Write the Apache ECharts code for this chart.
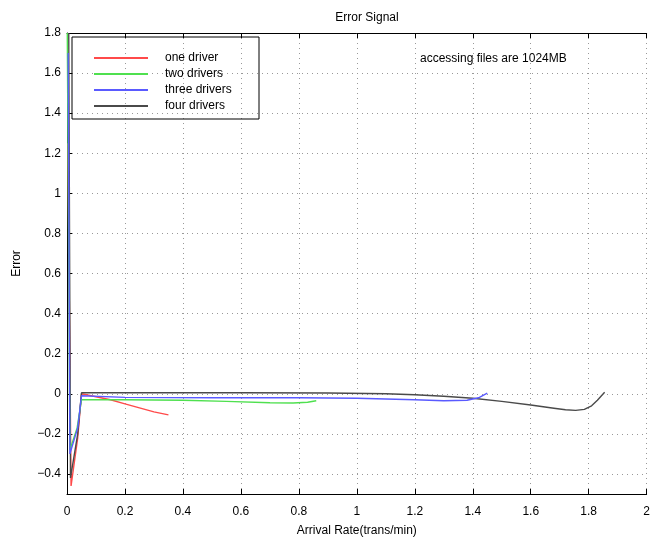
<!DOCTYPE html>
<html>
<head>
<meta charset="utf-8">
<script src="https://cdn.jsdelivr.net/npm/echarts@6/dist/echarts.min.js"></script>
<style>
html, body { margin: 0; padding: 0; background: #fff; }
#main { width: 653px; height: 542px; }
</style>
</head>
<body>
<div id="main"></div>
<script>
var chart = echarts.init(document.getElementById('main'));

// series data
var seriesNames = ['one driver', 'two drivers', 'three drivers', 'four drivers'];

var xOne = [0.003, 0.014, 0.037, 0.05, 0.1, 0.15, 0.2, 0.25, 0.3, 0.35];
var yOne = [1.25, -0.46, -0.22, 0.0, -0.015, -0.03, -0.05, -0.07, -0.09, -0.105];

var xTwo = [0.001, 0.01, 0.035, 0.05, 0.2, 0.4, 0.55, 0.7, 0.78, 0.83, 0.86];
var yTwo = [1.8, -0.28, -0.17, -0.03, -0.03, -0.032, -0.038, -0.045, -0.046, -0.042, -0.035];

var xThree = [0.004, 0.01, 0.037, 0.05, 0.2, 0.5, 0.8, 1.0, 1.2, 1.3, 1.38, 1.42, 1.45];
var yThree = [1.7, -0.3, -0.17, -0.01, -0.018, -0.02, -0.02, -0.022, -0.03, -0.035, -0.032, -0.02, 0.003];

var xFour = [0.006, 0.012, 0.037, 0.05, 0.3, 0.6, 0.9, 1.1, 1.2, 1.3, 1.4, 1.5, 1.6, 1.68, 1.72, 1.755, 1.785, 1.81, 1.83, 1.855];
var yFour = [1.8, -0.42, -0.2, 0.005, 0.005, 0.005, 0.004, 0.0, -0.005, -0.012, -0.022, -0.038, -0.056, -0.072, -0.08, -0.083, -0.078, -0.06, -0.032, 0.008];

var yTicks = [-0.4, -0.2, 0, 0.2, 0.4, 0.6, 0.8, 1, 1.2, 1.4, 1.6, 1.8];

var colors = ['#ff4a4a', '#4fe04f', '#5a5aff', '#4a4a4a'];

function pairs(xs, ys) {
    return xs.map(function (x, i) { return [x, ys[i]]; });
}
var allData = [pairs(xOne, yOne), pairs(xTwo, yTwo), pairs(xThree, yThree), pairs(xFour, yFour)];

var font = 'Liberation Sans';
var gridLine = { show: true, lineStyle: { type: [1, 4], color: '#999', width: 1 } };

var option = {
    animation: false,
    backgroundColor: '#fff',
    textStyle: { fontFamily: font },
    title: {
        text: 'Error Signal',
        left: 362,
        top: 7,
        textAlign: 'center',
        textStyle: { fontSize: 12, fontWeight: 'normal', color: '#000', fontFamily: font }
    },
    grid: { left: 67, top: 33, right: -2, bottom: 48 },
    legend: {
        orient: 'vertical',
        left: 89,
        top: 46,
        icon: 'rect',
        itemWidth: 54,
        itemHeight: 2,
        itemGap: 2,
        data: seriesNames,
        textStyle: { fontSize: 12, lineHeight: 14, color: '#000', fontFamily: font, padding: [0, 0, 0, 12] }
    },
    graphic: [
        {
            type: 'rect',
            shape: { x: 72, y: 37, width: 187, height: 82 },
            style: { fill: 'rgba(0,0,0,0)', stroke: '#000', lineWidth: 1 },
            z: 100
        },
        {
            type: 'text',
            left: 420,
            top: 53,
            style: { text: 'accessing files are 1024MB', fontSize: 12, fill: '#000', fontFamily: font }
        }
    ],
    xAxis: [
        {
            type: 'value',
            min: 0,
            max: 2,
            interval: 0.2,
            name: 'Arrival Rate(trans/min)',
            nameLocation: 'middle',
            nameGap: 31,
            nameTextStyle: { fontSize: 12, color: '#000', fontFamily: font },
            axisLine: { show: true, onZero: false, lineStyle: { color: '#000', width: 1 } },
            axisTick: { show: true, inside: true, length: 5, lineStyle: { color: '#000' } },
            axisLabel: { color: '#000', fontSize: 12, margin: 12, fontFamily: font,
                formatter: function (v) { return String(Math.round(v * 10) / 10); } },
            splitLine: gridLine
        },
        {
            type: 'value',
            position: 'top',
            min: 0,
            max: 2,
            interval: 0.2,
            axisLine: { show: true, onZero: false, lineStyle: { color: '#000', width: 1 } },
            axisTick: { show: true, inside: true, length: 5, lineStyle: { color: '#000' } },
            axisLabel: { show: false },
            splitLine: { show: false }
        }
    ],
    yAxis: {
        type: 'value',
        min: -0.5,
        max: 1.8,
        name: 'Error',
        nameLocation: 'middle',
        nameGap: 44,
        nameTextStyle: { fontSize: 12, color: '#000', fontFamily: font },
        axisLine: { show: true, onZero: false, lineStyle: { color: '#000', width: 1 } },
        axisTick: { show: true, inside: true, length: 5, customValues: yTicks, lineStyle: { color: '#000' } },
        axisLabel: { color: '#000', fontSize: 12, margin: 6, customValues: yTicks, fontFamily: font,
            formatter: function (v) { var s = String(Math.round(v * 10) / 10); return s.replace('-', '\u2212'); } },
        splitLine: gridLine
    },
    series: seriesNames.map(function (name, i) {
        return {
            name: name,
            type: 'line',
            symbol: 'none',
            smooth: false,
            data: allData[i],
            lineStyle: { color: colors[i], width: 1.4 },
            itemStyle: { color: colors[i] },
            z: 2 + (i === 3 ? 0 : i)
        };
    })
};

chart.setOption(option);
</script>
</body>
</html>
